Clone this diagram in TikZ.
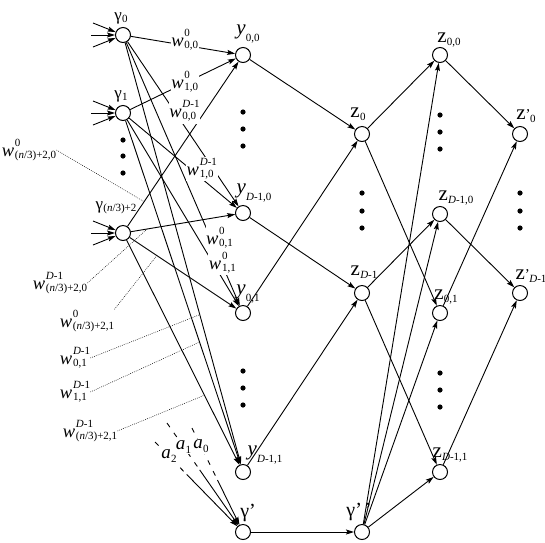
\documentclass[tikz,border=0pt]{standalone}
\usepackage{fontspec}
\setmainfont{Liberation Serif}
\usetikzlibrary{arrows.meta,calc}
\newcommand\ScrF{\fontsize{11}{11}\selectfont}
\newcommand\Lsb[3][3pt]{#2\kern0.3pt\raisebox{-#1}{\ScrF #3}}
\newcommand\Lss[3]{#1\kern0.8pt\raisebox{-2pt}{\ScrF\begin{tabular}[b]{@{}l@{}}#2\\[1pt]#3\end{tabular}}}
\newcommand\Lzp[1]{z{\fontsize{15}{15}\selectfont ’}\kern-0.5pt\raisebox{-3pt}{\ScrF #1}}
\newcommand\Wlab[2]{\Lss{\textit{w}}{#1}{#2}}
\newcommand\Dmo{\textit{D}-1}
\newcommand\Nth{(\textit{n}/3)+2}
\newcommand\FontY{\fontsize{21}{24}\selectfont}
\newcommand\FontW{\fontsize{18.5}{21}\selectfont}
\newcommand\FontG{\fontsize{17}{19}\selectfont}
\newcommand\FontGp{\fontsize{20}{22}\selectfont}
\newcommand\FontA{\fontsize{19}{21}\selectfont}
\begin{document}
\begin{tikzpicture}[x=1pt,y=-1pt,
 nd/.style={circle,draw,line width=1pt,minimum size=15pt,inner sep=0pt,fill=white},
 arr/.style={line width=0.9pt,-{Stealth[length=8pt,width=5pt,inset=1.5pt]}},
 lab/.style={fill=white,inner sep=0.6pt,font=\FontW,xshift=7pt,yshift=4pt},
 nl/.style={inner sep=0pt},
 lead/.style={line width=0.5pt,dash pattern=on 0.8pt off 1.2pt},
 ad/.style={line width=0.9pt,dash pattern=on 5pt off 7pt},
 alab/.style={fill=white,inner sep=0.6pt,font=\FontA},
]
\useasboundingbox (0,0) rectangle (545,542);
% nodes
\node[nd] (g0) at (123,35) {};
\node[nd] (g1) at (123,113) {};
\node[nd] (g2) at (123,233) {};
\node[nd] (y00) at (243,55) {};
\node[nd] (yD10) at (243,213) {};
\node[nd] (y01) at (243,313) {};
\node[nd] (yD11) at (243,472) {};
\node[nd] (gp) at (243,532) {};
\node[nd] (z0) at (362,134) {};
\node[nd] (zD1) at (362,293) {};
\node[nd] (gpp) at (362,532) {};
\node[nd] (z00) at (440,55) {};
\node[nd] (zD10) at (440,214) {};
\node[nd] (z01) at (440,313) {};
\node[nd] (zD11) at (440,472) {};
\node[nd] (zp0) at (520,134) {};
\node[nd] (zpD1) at (520,293) {};
% edges
\foreach \s in {g0,g1,g2}{\foreach \t in {y00,yD10,y01,yD11}{\draw[arr] (\s) -- (\t);}}
\draw[arr] (y00) -- (z0);
\draw[arr] (yD10) -- (zD1);
\draw[arr] (y01) -- (z0);
\draw[arr] (yD11) -- (zD1);
\draw[arr] (gp) -- (gpp);
\draw[arr] (z0) -- (z00);
\draw[arr] (z0) -- (z01);
\draw[arr] (zD1) -- (zD10);
\draw[arr] (zD1) -- (zD11);
\foreach \t in {z00,zD10,z01,zD11}{\draw[arr] (gpp) -- (\t);}
\draw[arr] (z00) -- (zp0);
\draw[arr] (z01) -- (zp0);
\draw[arr] (zD10) -- (zpD1);
\draw[arr] (zD11) -- (zpD1);
% input arrows
\foreach \g in {g0,g1,g2}{
 \coordinate (\g-i1) at ($(\g)+(-30,-12)$);
 \coordinate (\g-i2) at ($(\g)+(-32,0)$);
 \coordinate (\g-i3) at ($(\g)+(-30,12)$);
 \foreach \k in {1,2,3}{\draw[arr] (\g-i\k) -- (\g);}
}
% a lines
\coordinate (a2s) at (155,442);
\coordinate (a1s) at (167,423);
\coordinate (a0s) at (192,428);
\coordinate (a2m) at ($(a2s)!0.36!(gp)$);
\coordinate (a1m) at ($(a1s)!0.43!(gp)$);
\coordinate (a0m) at ($(a0s)!0.5!(gp)$);
\draw[ad] (a2s) -- (a2m); \draw[arr] (a2m) -- (gp);
\draw[ad] (a1s) -- (a1m); \draw[arr] (a1m) -- (gp);
\draw[ad] (a0s) -- (a0m); \draw[arr] (a0m) -- (gp);
% dots
\foreach \p in {(123,140),(123,156),(123,173),(243,112),(243,129),(243,146),
 (243,371),(243,388),(243,405),(362,193),(362,211),(362,228),
 (440,115),(440,132),(440,149),(520,193),(520,211),(520,228),
 (440,373),(440,390),(440,407)}{\fill \p circle (2.6pt);}
% leader target points
\path (g2) -- coordinate[pos=0.15] (c1) (y00);
\path (g2) -- coordinate[pos=0.157] (c2) (yD10);
\path (g2) -- coordinate[pos=0.255] (c3) (y01);
\path (g0) -- coordinate[pos=0.645] (c4) (yD11);
\path (g1) -- coordinate[pos=0.644] (c5) (yD11);
\path (g2) -- coordinate[pos=0.69] (c6) (yD11);
% edge labels
\path (g0) -- node[lab,pos=0.45] (e1) {\Wlab{0}{0,0}} (y00);
\path (g1) -- node[lab,pos=0.45] (e2) {\Wlab{0}{1,0}} (y00);
\path (g0) -- node[lab,pos=0.45] (e3) {\Wlab{\Dmo}{0,0}} (yD10);
\path (g1) -- node[lab,pos=0.61] (e4) {\Wlab{\Dmo}{1,0}} (yD10);
\path (g0) -- node[lab,pos=0.76] (e5) {\Wlab{0}{0,1}} (y01);
\path (g1) -- node[lab,pos=0.79] (e6) {\Wlab{0}{1,1}} (y01);
% a labels
\path (a2s) -- node[alab,pos=0.17] (la2) {\Lsb[4pt]{\textit{a}}{2}} (gp);
\path (a1s) -- node[alab,pos=0.23] (la1) {\Lsb[4pt]{\textit{a}}{1}} (gp);
\path (a0s) -- node[alab,pos=0.19] (la0) {\Lsb[4pt]{\textit{a}}{0}} (gp);
% leader labels
\node[nl,font=\FontW] (L1) at (29,150) {\Wlab{0}{\Nth,0}};
\node[nl,font=\FontW] (L2) at (60,283) {\Wlab{\Dmo}{\Nth,0}};
\node[nl,font=\FontW] (L3) at (87,321) {\Wlab{0}{\Nth,1}};
\node[nl,font=\FontW] (L4) at (75,358) {\Wlab{\Dmo}{0,1}};
\node[nl,font=\FontW] (L5) at (75,392) {\Wlab{\Dmo}{1,1}};
\node[nl,font=\FontW] (L6) at (90,431) {\Wlab{\Dmo}{\Nth,1}};
\draw[lead] (L1.east) -- (c1);
\draw[lead] (L2.east) -- (c2);
\draw[lead] (L3.north east) -- (c3);
\draw[lead] (L4.east) -- (c4);
\draw[lead] (L5.east) -- (c5);
\draw[lead] (L6.east) -- (c6);
% node labels
\node[nl,font=\FontG] (lg0) at (121,18) {\Lsb[2pt]{γ}{0}};
\node[nl,font=\FontG] (lg1) at (121,96) {\Lsb[2pt]{γ}{1}};
\node[nl,font=\FontG] (lg2) at (116,208) {\Lsb[2pt]{γ}{\Nth}};
\node[nl,font=\FontY] (ly00) at (248,34) {\Lsb[7pt]{\textit{y}}{0,0}};
\node[nl,font=\FontY] (lyD10) at (254,193) {\Lsb[7pt]{\textit{y}}{\Dmo,0}};
\node[nl,font=\FontY] (ly01) at (248,294) {\Lsb[7pt]{\textit{y}}{0,1}};
\node[nl,font=\FontY] (lyD11) at (265,455) {\Lsb[7pt]{\textit{y}}{\Dmo,1}};
\node[nl,font=\FontGp] (lgp) at (248,513) {γ’};
\node[nl,font=\FontGp] (lgpp) at (359,512) {γ’\kern3pt’};
\node[nl,font=\FontY] (lz0) at (358,114) {\Lsb{z}{0}};
\node[nl,font=\FontY] (lzD1) at (364,272) {\Lsb{z}{\Dmo}};
\node[nl,font=\FontY] (lz00) at (449,40) {\Lsb{z}{0,0}};
\node[nl,font=\FontY] (lzD10) at (456,198) {\Lsb{z}{\Dmo,0}};
\node[nl,font=\FontY] (lz01) at (446,297) {\Lsb{z}{0,1}};
\node[nl,font=\FontY] (lzD11) at (450,455) {\Lsb{z}{\Dmo,1}};
\node[nl,font=\FontY] (lzp0) at (526,116) {\Lzp{0}};
\node[nl,font=\FontY] (lzpD1) at (531,276) {\Lzp{\Dmo}};
\end{tikzpicture}
\end{document}
